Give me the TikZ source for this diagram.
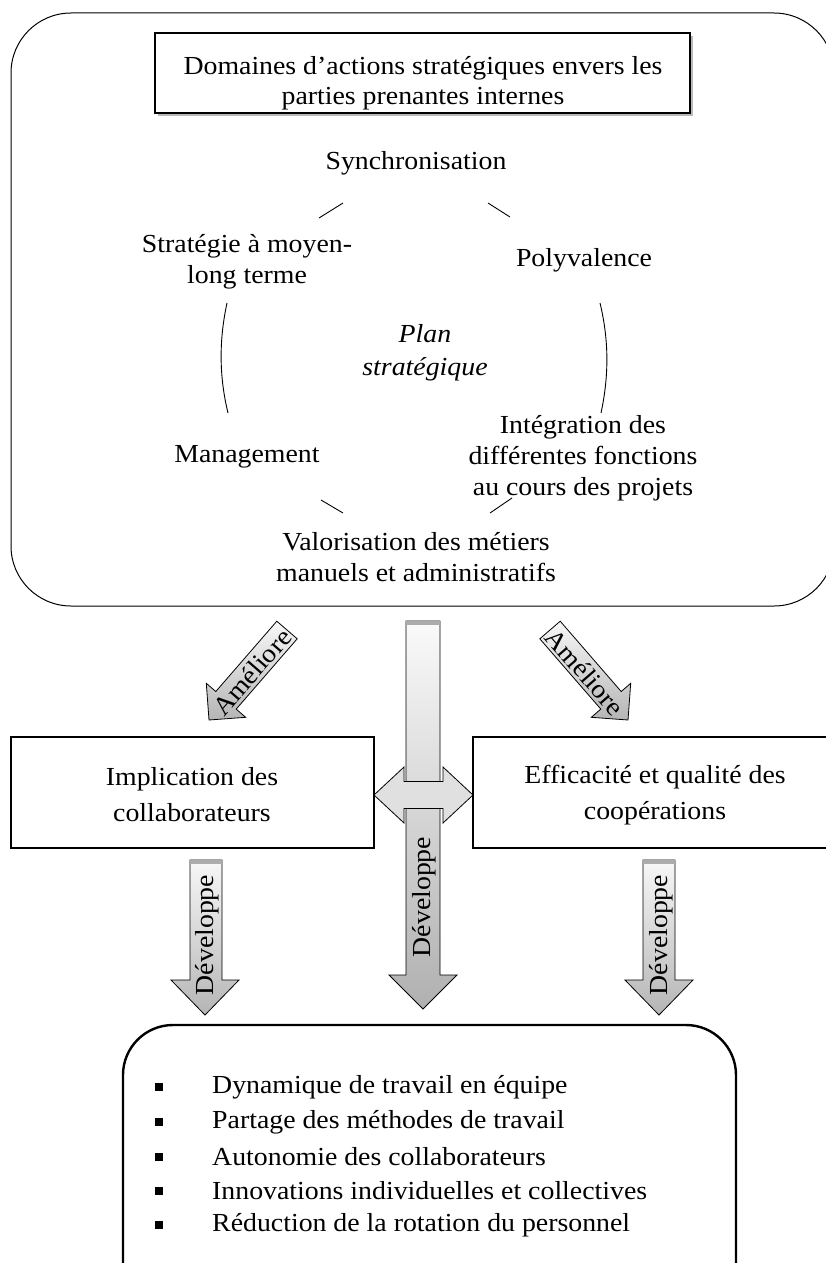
\documentclass[tikz,border=0pt]{standalone}
\usepackage{fontspec}
\setmainfont{Liberation Serif}[FakeStretch=1.07]
\begin{document}
\begin{tikzpicture}[x=1pt,y=-1pt,
  lbl/.style={font=\fontsize{26}{31}\selectfont, align=center, inner sep=0pt},
  boxtxt/.style={font=\fontsize{26}{36}\selectfont, align=center, inner sep=0pt},
  itemtxt/.style={font=\fontsize{26}{31}\selectfont, anchor=west, inner sep=0pt},
  arrowtxt/.style={font=\fontsize{26}{31}\selectfont, inner sep=0pt},
  blockarrow/.style={draw=black, line width=0.8pt, top color=gray!6, bottom color=gray!58},
  cyclearc/.style={line width=0.9pt},
  bulletmark/.style={fill=black, inner sep=0pt, minimum size=8.5pt}
]
\useasboundingbox (0,0) rectangle (826,1263);
\begin{scope}
\clip (0,0) rectangle (826,1263);

% ---------- upper panel: strategic action domains ----------
\draw[line width=1pt, rounded corners=60pt] (11,13) rectangle (834,606);
\fill[gray!55] (158,36) rectangle (693,116);
\draw[line width=1.1pt, fill=white] (155,33) rectangle (690,113);
\node[lbl, font=\fontsize{26}{30}\selectfont] (title) at (423,83)
  {Domaines d’actions stratégiques envers les\\parties prenantes internes};

\node[lbl] (sync)  at (416,163) {Synchronisation};
\node[lbl] (strat) at (247,262) {Stratégie à moyen-\\long terme};
\node[lbl] (poly)  at (584,260) {Polyvalence};
\node[lbl, font=\fontsize{26}{33}\selectfont\itshape] (plan) at (425,353) {Plan\\stratégique};
\node[lbl] (integ) at (583,458) {Intégration des\\différentes fonctions\\au cours des projets};
\node[lbl] (manag) at (247,457) {Management};
\node[lbl] (valo)  at (416,557) {Valorisation des métiers\\manuels et administratifs};

% cycle segments around the plan
\draw[cyclearc] (319,218) -- (343,203);
\draw[cyclearc] (488,203) -- (510,217);
\draw[cyclearc] (600,303) .. controls (609,340) and (609,376) .. (601,413);
\draw[cyclearc] (343,513) -- (321,500);
\draw[cyclearc] (490,513) -- (512,498);
\draw[cyclearc] (228,413) .. controls (219,376) and (219,340) .. (227,303);

% ---------- middle: the two outcomes ----------
\draw[line width=2pt] (10.5,737) rectangle (374,848);
\draw[line width=2pt] (473,737) rectangle (840,848);
\node[boxtxt] (impl) at (192,795) {Implication des\\collaborateurs};
\node[boxtxt] (effi) at (655,795) {Efficacité et qualité des\\coopérations};

% "Améliore" arrows
\path[blockarrow] (297.2,638.8) -- (236.2,709.1) -- (245.7,717.3) -- (209,720)
  -- (206.3,683.3) -- (215.8,691.5) -- (276.8,621.2) -- cycle;
\node[arrowtxt, rotate=49] (amel1) at (252,672) {Améliore};
\path[blockarrow] (539.8,638.8) -- (600.8,709.1) -- (591.3,717.3) -- (628,720)
  -- (630.7,683.3) -- (621.2,691.5) -- (560.2,621.2) -- cycle;
\node[arrowtxt, rotate=-49] (amel2) at (585,672) {Améliore};

% central "Développe" arrow
\path[blockarrow, top color=gray!4, bottom color=gray!62]
  (406,621) -- (440,621) -- (440,975) -- (457,975) -- (423,1009)
  -- (389,975) -- (406,975) -- cycle;
\fill[gray!65] (406.4,621.4) rectangle (439.6,624.5);
\node[arrowtxt, rotate=90] (dev2) at (424,897) {Développe};

% two-way exchange arrow between the outcomes
\path[draw=black, line width=0.8pt, fill=gray!24]
  (374,795) -- (404,767) -- (404,781.5) -- (443,781.5) -- (443,767) -- (473,795)
  -- (443,823) -- (443,808.5) -- (404,808.5) -- (404,823) -- cycle;

% side "Développe" arrows
\path[blockarrow] (190,860) -- (222,860) -- (222,980) -- (239,980) -- (205,1015)
  -- (171,980) -- (190,980) -- cycle;
\fill[gray!65] (190.4,860.4) rectangle (221.6,863.5);
\node[arrowtxt, rotate=90] (dev1) at (207,935) {Développe};
\path[blockarrow] (643,860) -- (675,860) -- (675,980) -- (693,980) -- (659,1015)
  -- (625,980) -- (643,980) -- cycle;
\fill[gray!65] (643.4,860.4) rectangle (674.6,863.5);
\node[arrowtxt, rotate=90] (dev3) at (661,935) {Développe};

% ---------- lower panel: effects ----------
\draw[line width=2.4pt, rounded corners=50pt] (123,1025) rectangle (736,1320);
\foreach \y/\t [count=\i] in {1087/Dynamique de travail en équipe,
                              1122/Partage des méthodes de travail,
                              1157/Autonomie des collaborateurs,
                              1191/Innovations individuelles et collectives,
                              1225/Réduction de la rotation du personnel}{
  \node[bulletmark] (b\i) at (159,\y) {};
  \node[itemtxt] (item\i) at (212,\y) {\t};
}
\end{scope}
\end{tikzpicture}
\end{document}
